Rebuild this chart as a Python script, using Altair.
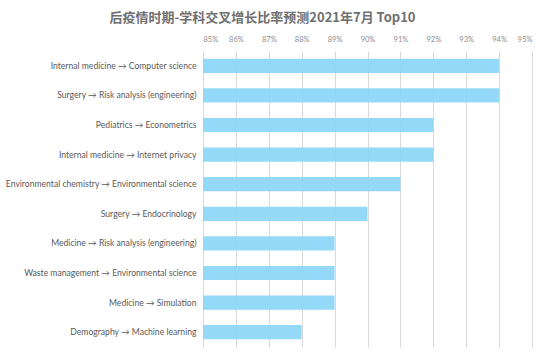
import altair as alt
import pandas as pd

categories = [
    "Internal medicine → Computer science",
    "Surgery  → Risk analysis (engineering)",
    "Pediatrics  → Econometrics",
    "Internal medicine → Internet privacy",
    "Environmental chemistry  → Environmental science",
    "Surgery → Endocrinology",
    "Medicine → Risk analysis (engineering)",
    "Waste management → Environmental science",
    "Medicine → Simulation",
    "Demography → Machine learning",
]
values = [0.94, 0.94, 0.92, 0.92, 0.91, 0.90, 0.89, 0.89, 0.89, 0.88]
ticks = [0.85, 0.86, 0.87, 0.88, 0.89, 0.90, 0.91, 0.92, 0.93, 0.94, 0.95]

df = pd.DataFrame({"pair": categories, "rate": values})

chart = alt.Chart(df).mark_bar(color="#8ED8F8", opacity=0.95, clip=True).encode(
    x=alt.X("rate:Q",
            scale=alt.Scale(domain=[0.85, 0.95], zero=False, nice=False),
            axis=alt.Axis(orient="top", format=".0%", values=ticks, title=None,
                          domain=False, ticks=False, labelFontSize=7.5,
                          labelColor="#8c8c8c", labelFont="Lato",
                          labelPadding=8, gridColor="#d9d9d9", gridWidth=1)),
    y=alt.Y("pair:N", sort=None,
            scale=alt.Scale(paddingInner=0.52, paddingOuter=0.26),
            axis=alt.Axis(title=None, domain=False, ticks=False, grid=False,
                          labelFontSize=8.6, labelColor="#595959",
                          labelFont="Lato", labelPadding=7, labelLimit=300)),
).properties(
    width=329, height=296,
    autosize=alt.AutoSizeParams(type="none"),
    padding={"left": 203, "top": 51, "right": 12, "bottom": 5},
    title=alt.TitleParams("后疫情时期-学科交叉增长比率预测2021年7月 Top10",
                          font="Noto Sans CJK SC", fontSize=13, fontWeight="bold",
                          color="#707070", anchor="middle", dx=-105, offset=10),
).configure_view(stroke=None)

chart.save("out.html", embed_options={"renderer": "svg", "actions": False})
